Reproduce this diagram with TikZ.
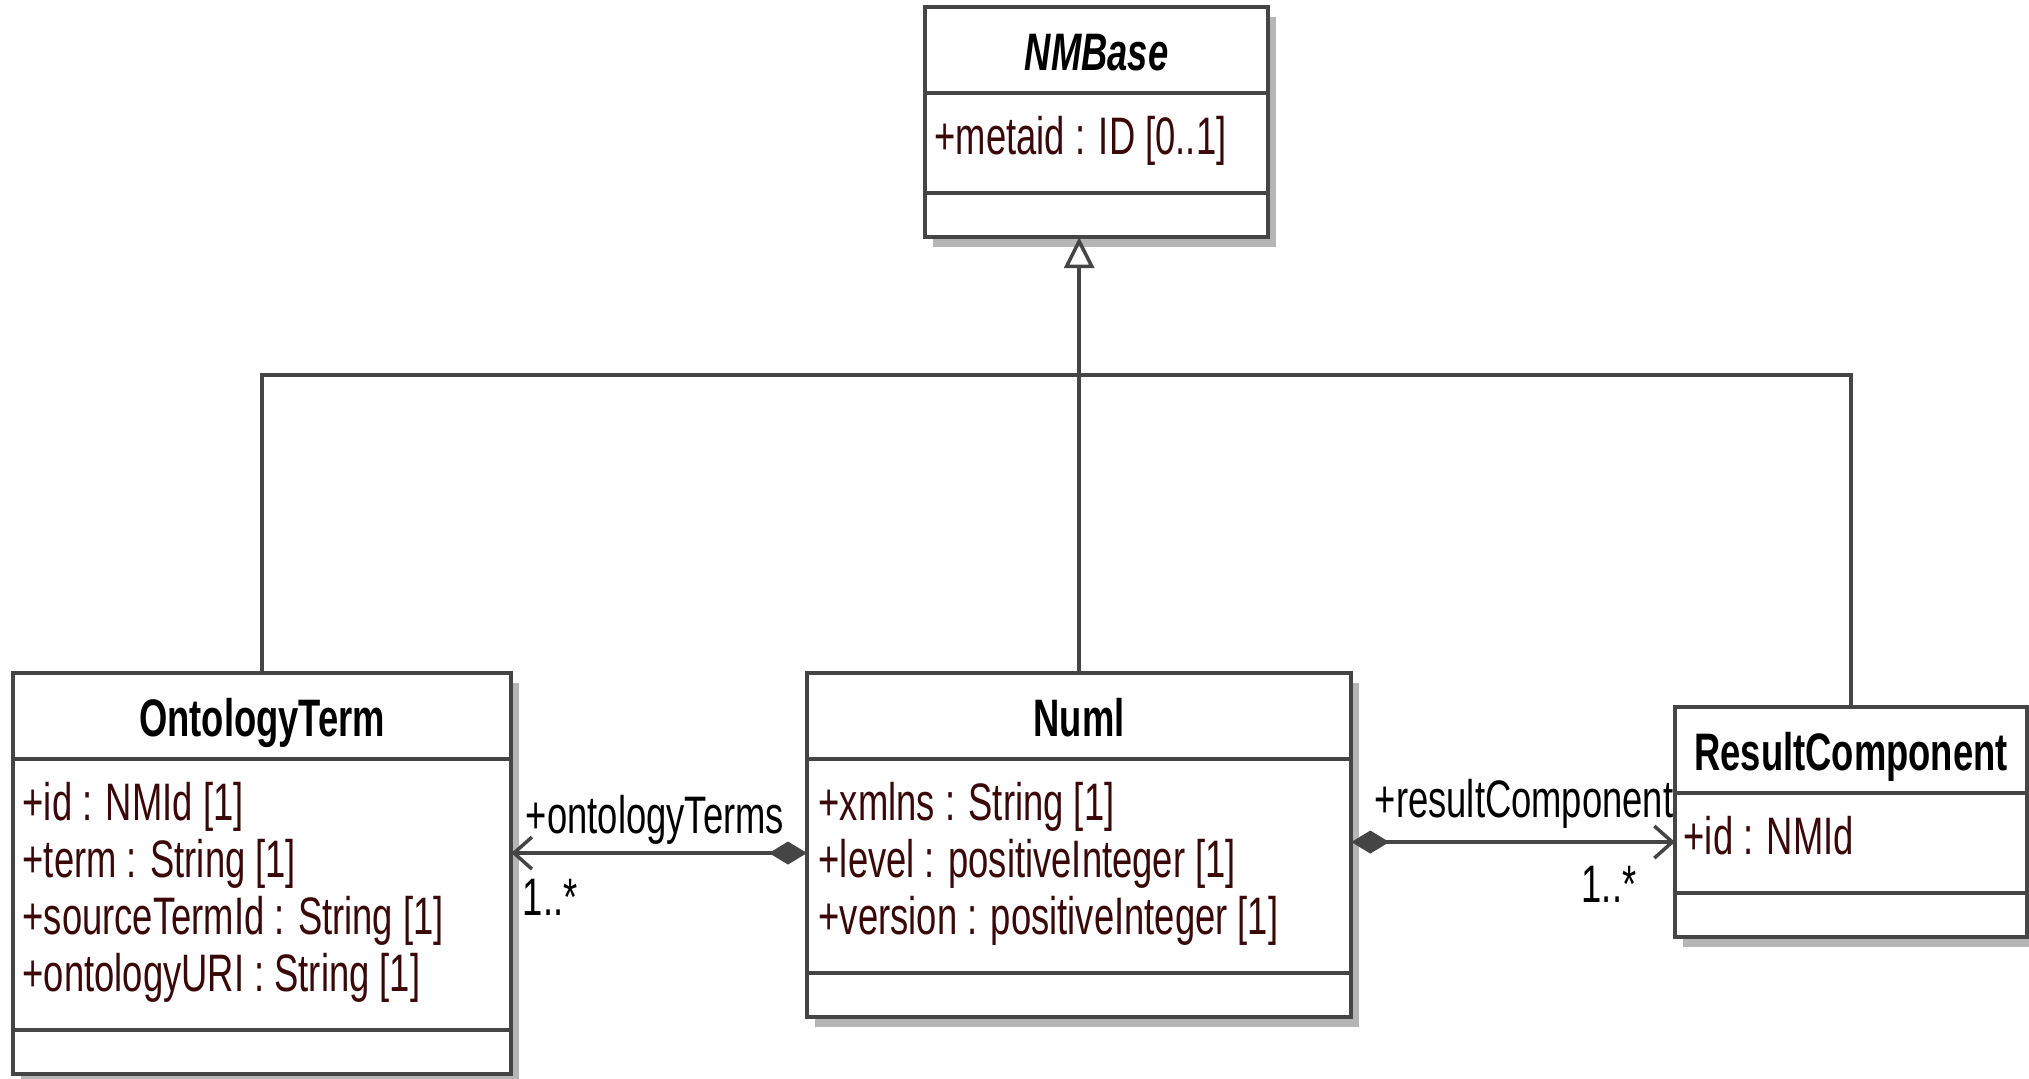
\documentclass[tikz,border=0pt]{standalone}
\usepackage{fontspec}
\setmainfont{Liberation Sans}[FakeStretch=0.69]
\usetikzlibrary{arrows.meta, positioning, calc, backgrounds}
\definecolor{linegray}{HTML}{454545}
\definecolor{shadowgray}{HTML}{B5B5B5}
\definecolor{attrtext}{HTML}{3A0808}

\begin{document}
\begin{tikzpicture}[
  x=0.01cm, y=-0.01cm,
  every node/.style={font=\fontsize{15pt}{16.2pt}\selectfont},
  hdr/.style={draw=linegray, line width=1.1pt, fill=white, outer sep=0pt,
              inner sep=0pt, minimum height=0.86cm, text height=11.4pt, text depth=0pt,
              font=\fontsize{15pt}{16.2pt}\selectfont\bfseries},
  part/.style={draw=linegray, line width=1.1pt, fill=white, outer sep=0pt, inner sep=0pt},
  attr/.style={anchor=north west, inner sep=0pt, align=left, text=attrtext},
  lbl/.style={inner sep=0pt},
  gen/.style={draw=linegray, line width=1pt},
  comp/.style={draw=linegray, line width=1pt,
               {Diamond[length=3.8mm, width=2.3mm, fill=linegray]}-{Straight Barb[length=1.8mm, width=3.2mm]}}
]
  \useasboundingbox (0,0) rectangle (2029,1079);

  % NMBase
  \node[hdr, minimum width=3.43cm, anchor=north west] (nmb-hdr) at (925,7) {\itshape NMBase};
  \node[part, minimum width=3.43cm, minimum height=1.00cm, below=0pt of nmb-hdr] (nmb-attr) {};
  \node[part, minimum width=3.43cm, minimum height=0.44cm, below=0pt of nmb-attr] (nmb-ops) {};
  \node[attr] (nmb-txt) at ($(nmb-attr.north west)+(9,23)$) {+metaid : ID [0..1]};

  % OntologyTerm
  \node[hdr, minimum width=4.98cm, anchor=north west] (ot-hdr) at (13,673) {OntologyTerm};
  \node[part, minimum width=4.98cm, minimum height=2.71cm, below=0pt of ot-hdr] (ot-attr) {};
  \node[part, minimum width=4.98cm, minimum height=0.44cm, below=0pt of ot-attr] (ot-ops) {};
  \node[attr] (ot-txt) at ($(ot-attr.north west)+(9,23)$)
       {+id : NMId [1]\\+term : String [1]\\+sourceTermId : String [1]\\+ontologyURI : String [1]};

  % Numl
  \node[hdr, minimum width=5.44cm, anchor=north west] (numl-hdr) at (807,673) {Numl};
  \node[part, minimum width=5.44cm, minimum height=2.14cm, below=0pt of numl-hdr] (numl-attr) {};
  \node[part, minimum width=5.44cm, minimum height=0.44cm, below=0pt of numl-attr] (numl-ops) {};
  \node[attr] (numl-txt) at ($(numl-attr.north west)+(11,23)$)
       {+xmlns : String [1]\\+level : positiveInteger [1]\\+version : positiveInteger [1]};

  % ResultComponent
  \node[hdr, minimum width=3.52cm, anchor=north west] (rc-hdr) at (1675,707) {ResultComponent};
  \node[part, minimum width=3.52cm, minimum height=1.00cm, below=0pt of rc-hdr] (rc-attr) {};
  \node[part, minimum width=3.52cm, minimum height=0.44cm, below=0pt of rc-attr] (rc-ops) {};
  \node[attr] (rc-txt) at ($(rc-attr.north west)+(8,23)$) {+id : NMId};

  % shadows
  \begin{scope}[on background layer]
    \foreach \c in {nmb, ot, numl, rc}
      \fill[shadowgray] ($(\c-hdr.north west)+(8,10)$) rectangle ($(\c-ops.south east)+(8,10)$);
  \end{scope}

  % generalization
  \coordinate (gen-bus) at (numl-hdr.north |- 0,375);
  \draw[gen] (ot-hdr.north) |- (gen-bus) -| (rc-hdr.north);
  \draw[gen, -{Triangle[open, length=3.1mm, width=3mm]}] (numl-hdr.north) -- (numl-hdr.north |- nmb-ops.south);

  % compositions
  \draw[comp] ($(numl-attr.north west)+(0,94)$) coordinate (ot-assoc) -- (ot-assoc -| ot-attr.east);
  \draw[comp] ($(numl-attr.north east)+(0,83)$) coordinate (rc-assoc) -- (rc-assoc -| rc-attr.west);

  \node[lbl, anchor=base west] (ot-role) at ($(ot-assoc -| ot-attr.east)+(14,-20)$) {+ontologyTerms};
  \node[lbl, anchor=base west] (ot-mult) at ($(ot-assoc -| ot-attr.east)+(11,62)$) {1..*};
  \node[lbl, anchor=base east] (rc-role) at ($(rc-assoc -| rc-attr.west)+(-1,-25)$) {+resultComponent};
  \node[lbl, anchor=base east] (rc-mult) at ($(rc-assoc -| rc-attr.west)+(-38,60)$) {1..*};
\end{tikzpicture}
\end{document}
